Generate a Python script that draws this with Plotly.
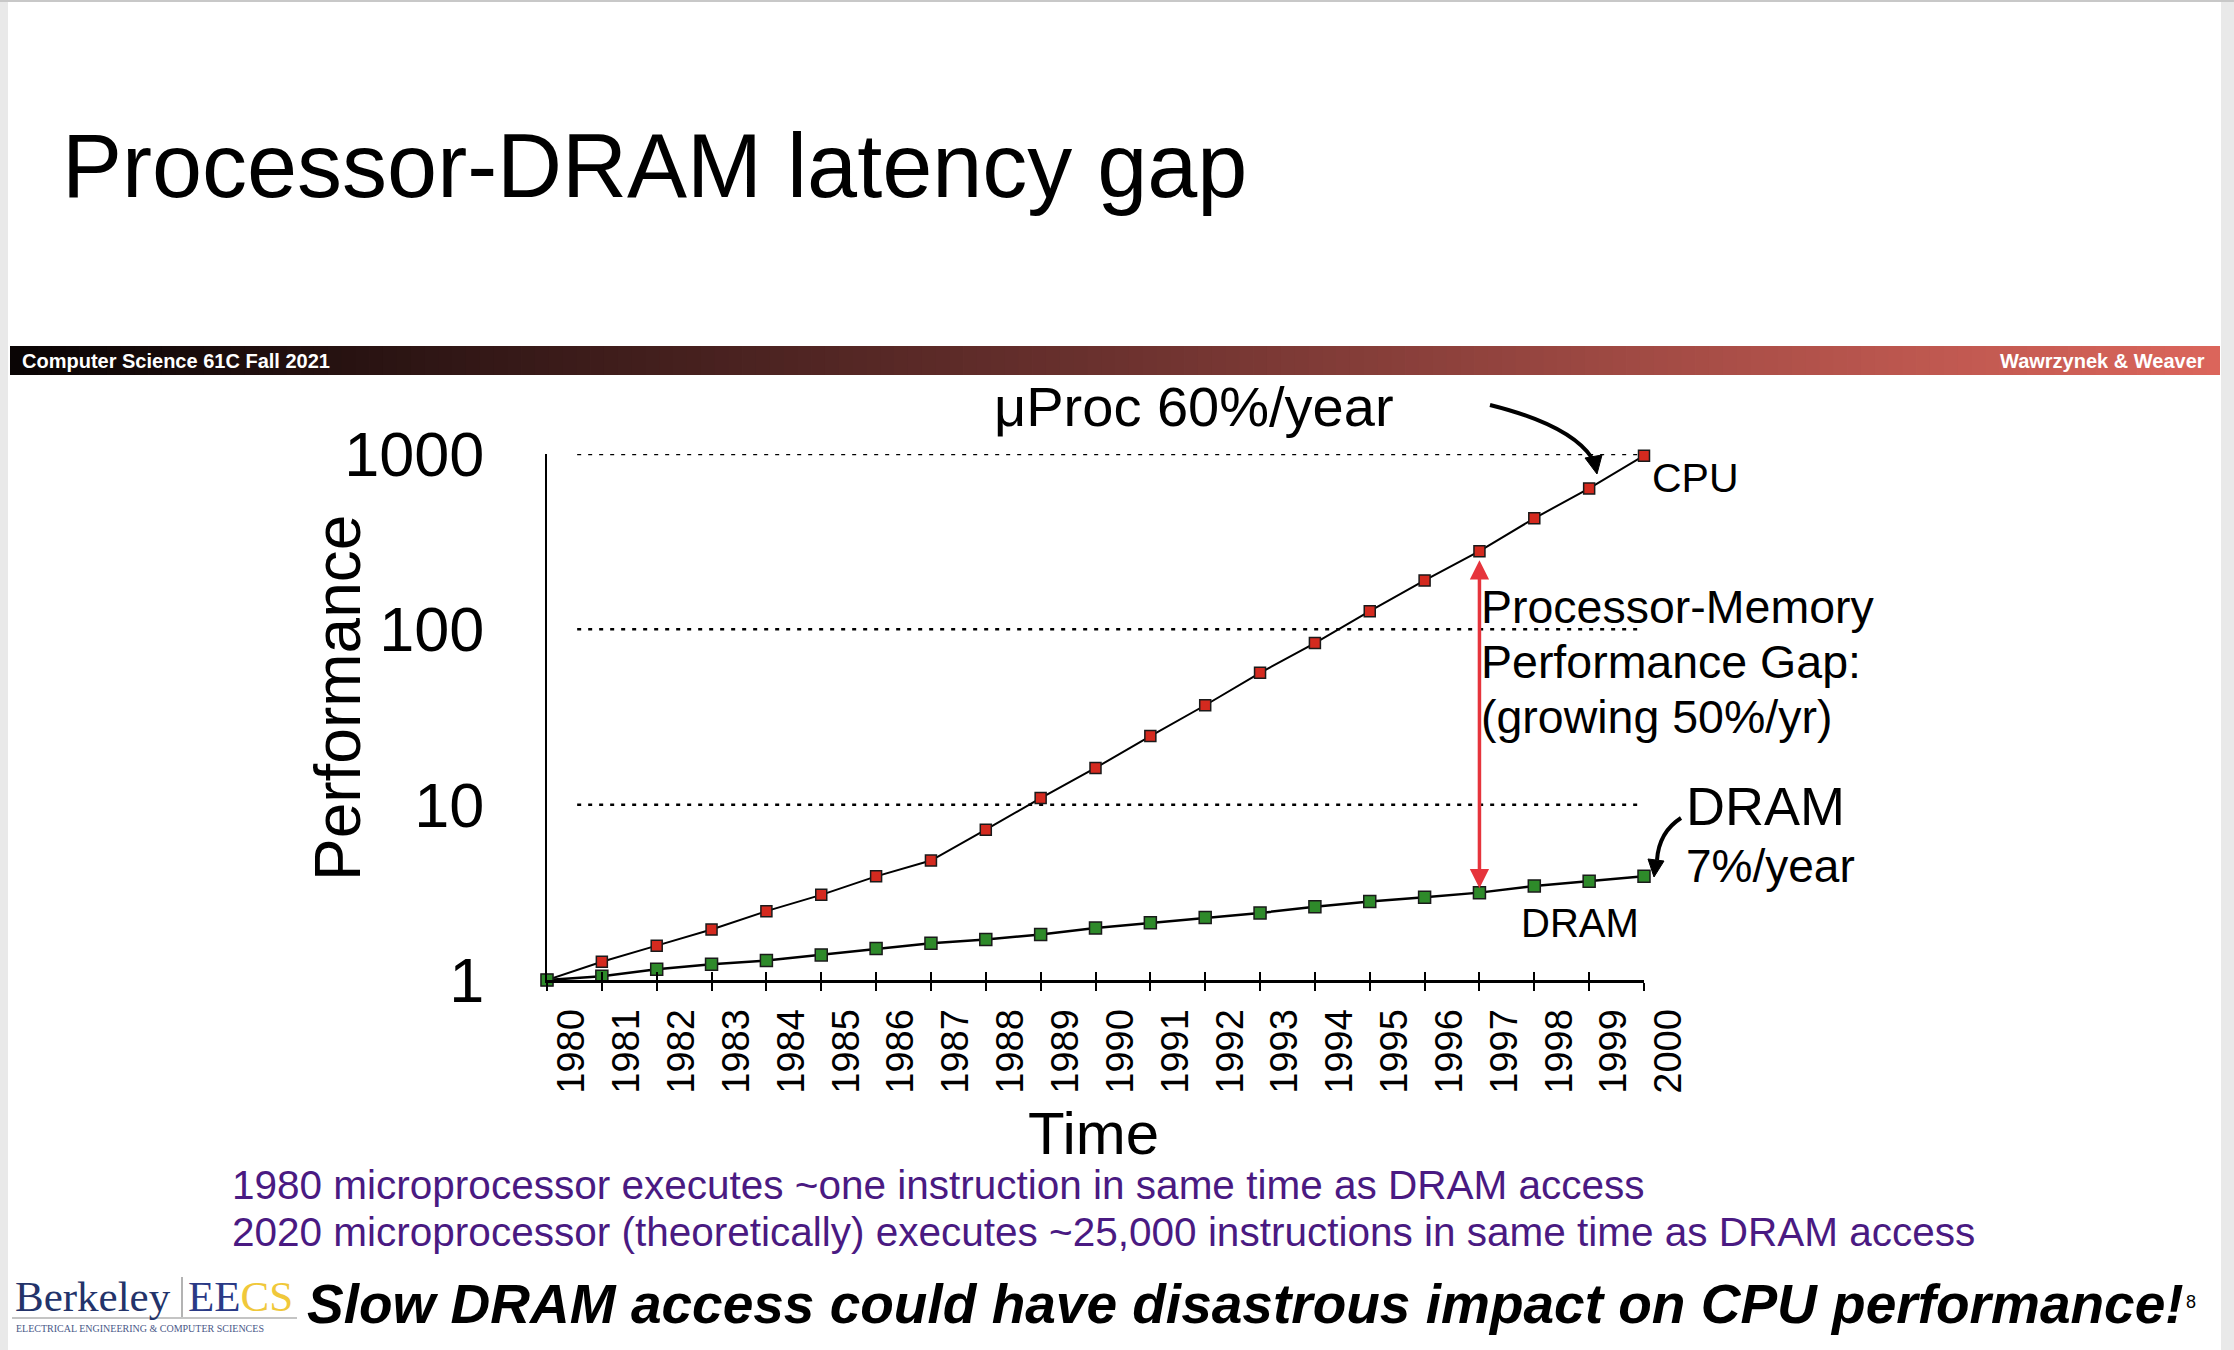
import numpy as np
import plotly.graph_objects as go

# ---------------- data ----------------
years = list(range(1980, 2001))
cpu_perf = [1.0, 1.27, 1.57, 1.94, 2.47, 3.06, 3.90, 4.80, 7.2, 10.9, 16.2,
            24.6, 36.9, 56.5, 83.5, 127, 190, 279, 430, 636, 978]
dram_perf = [1.0, 1.05, 1.15, 1.23, 1.29, 1.39, 1.51, 1.62, 1.70, 1.82, 1.98,
             2.12, 2.27, 2.41, 2.62, 2.80, 2.96, 3.15, 3.44, 3.66, 3.90]
y_tickvals = [1, 10, 100, 1000]
y_ticktext = ["1", "10", "100", "1000"]
x_ticktext = [str(y) for y in years]
grid_levels = [10, 100, 1000]
gap_year = 1997

# ---------------- geometry helpers ----------------
W, H = 2234, 1350
SANS = "Liberation Sans, Arial, Helvetica, sans-serif"
SERIF = "Liberation Serif, Times New Roman, serif"


def px(x):
    return x / W


def py(y):
    return 1 - y / H


fig = go.Figure()

fig.add_trace(go.Scatter(
    x=years, y=cpu_perf, mode="lines+markers", cliponaxis=False,
    line=dict(color="black", width=2),
    marker=dict(symbol="square", size=11, color="#d42a1f",
                line=dict(color="#1a1a1a", width=1.5)),
    showlegend=False, hoverinfo="skip"))
fig.add_trace(go.Scatter(
    x=years, y=dram_perf, mode="lines+markers", cliponaxis=False,
    line=dict(color="black", width=2.5),
    marker=dict(symbol="square", size=12, color="#2e8a2a",
                line=dict(color="#1a1a1a", width=1.5)),
    showlegend=False, hoverinfo="skip"))
# invisible trace on overlay axis (for the inside half of the crossing ticks)
fig.add_trace(go.Scatter(x=years, y=cpu_perf, xaxis="x2", mode="markers",
                         marker=dict(opacity=0), showlegend=False,
                         hoverinfo="skip"))

shapes = []
# slide frame
shapes.append(dict(type="rect", xref="paper", yref="paper", x0=0, x1=px(8),
                   y0=0, y1=1, fillcolor="#e9e9e9", line=dict(width=0)))
shapes.append(dict(type="rect", xref="paper", yref="paper", x0=px(2221), x1=1,
                   y0=0, y1=1, fillcolor="#e9e9e9", line=dict(width=0)))
shapes.append(dict(type="rect", xref="paper", yref="paper", x0=0, x1=1,
                   y0=py(2), y1=1, fillcolor="#c8c8c8", line=dict(width=0)))

# header gradient bar
c0 = np.array([10, 5, 5])
c1 = np.array([108, 50, 47])
c2 = np.array([220, 102, 92])
N = 160
bx0, bx1 = 10, 2220
for i in range(N):
    t = (i + 0.5) / N
    c = c0 + (c1 - c0) * (t / 0.5) if t < 0.5 else c1 + (c2 - c1) * ((t - 0.5) / 0.5)
    xa = bx0 + (bx1 - bx0) * i / N
    xb = bx0 + (bx1 - bx0) * (i + 1) / N + 0.8
    shapes.append(dict(type="rect", xref="paper", yref="paper",
                       x0=px(xa), x1=px(min(xb, bx1)), y0=py(375), y1=py(346),
                       fillcolor="rgb(%d,%d,%d)" % tuple(c.astype(int)),
                       line=dict(width=0)))

# dotted reference lines (shapes on a log axis take data values here)
for g in grid_levels:
    shapes.append(dict(type="line", xref="x", yref="y", x0=years[0] + 0.55,
                       x1=years[-1], y0=g, y1=g,
                       line=dict(color="black", width=2.5, dash="4px,7px"),
                       layer="below"))

# curved arrows (black)
arrow1 = "M %f,%f Q %f,%f %f,%f" % (px(1490), py(405), px(1570), py(425),
                                    px(1592), py(458))
shapes.append(dict(type="path", xref="paper", yref="paper", path=arrow1,
                   line=dict(color="black", width=4)))
head1 = "M %f,%f L %f,%f L %f,%f Z" % (px(1597), py(474), px(1585), py(458),
                                       px(1602), py(455))
shapes.append(dict(type="path", xref="paper", yref="paper", path=head1,
                   fillcolor="black", line=dict(color="black", width=1)))
arrow2 = "M %f,%f Q %f,%f %f,%f" % (px(1681), py(818), px(1659), py(832),
                                    px(1657), py(860))
shapes.append(dict(type="path", xref="paper", yref="paper", path=arrow2,
                   line=dict(color="black", width=4)))
head2 = "M %f,%f L %f,%f L %f,%f Z" % (px(1654), py(877), px(1648), py(859),
                                       px(1664), py(861))
shapes.append(dict(type="path", xref="paper", yref="paper", path=head2,
                   fillcolor="black", line=dict(color="black", width=1)))

# logo separators
shapes.append(dict(type="line", xref="paper", yref="paper", x0=px(182), x1=px(182),
                   y0=py(1317), y1=py(1277), line=dict(color="#9a9a9a", width=1.5)))
shapes.append(dict(type="line", xref="paper", yref="paper", x0=px(12), x1=px(297),
                   y0=py(1318), y1=py(1318), line=dict(color="#b0b0b0", width=1.5)))

annotations = []


def text(t, x, y, size, color="black", xanchor="left", family=SANS, angle=0):
    annotations.append(dict(text=t, x=px(x), y=py(y), xref="paper", yref="paper",
                            xanchor=xanchor, yanchor="middle", showarrow=False,
                            textangle=angle,
                            font=dict(family=family, size=size, color=color)))


text("Processor-DRAM latency gap", 60, 166, 90)
text("<b>Computer Science 61C Fall 2021</b>", 20, 361, 20, "white")
text("<b>Wawrzynek &amp; Weaver</b>", 2207, 361, 20, "white", xanchor="right")
text("μProc 60%/year", 992, 406, 56)
text("CPU", 1650, 478, 41)
text("Processor-Memory", 1479, 607, 46.5)
text("Performance Gap:", 1479, 662, 46.5)
text("(growing 50%/yr)", 1479, 717, 46.5)
text("DRAM", 1684, 806, 54)
text("7%/year", 1684, 866, 46)
text("DRAM", 1519, 923, 40)
text("Performance", 338, 698, 64, xanchor="center", angle=-90)
text("Time", 1093, 1133, 60, xanchor="center")
text("1980 microprocessor executes ~one instruction in same time as DRAM access",
     230, 1185, 40.5, "#4a1a82")
text("2020 microprocessor (theoretically) executes ~25,000 instructions in same time as DRAM access",
     230, 1232, 40.5, "#4a1a82")
text("<b><i>Slow DRAM access could have disastrous impact on CPU performance!</i></b>",
     305, 1304, 55)
text("8", 2191, 1302, 18, xanchor="center")
text("Berkeley", 13, 1296, 43, "#23336a", family=SERIF)
text("EE<span style='color:#f0c83a'>CS</span>", 186, 1296, 43, "#2a3a86", family=SERIF)
text("ELECTRICAL ENGINEERING &amp; COMPUTER SCIENCES", 14, 1328, 10, "#4a5888",
     family=SERIF)

# red double-headed gap arrow tied to the data at gap_year (annotations use log10)
gi = years.index(gap_year)
annotations.append(dict(text="", x=gap_year, y=np.log10(cpu_perf[gi]),
                        ax=gap_year, ay=np.log10(dram_perf[gi]),
                        xref="x", yref="y", axref="x", ayref="y",
                        showarrow=True, arrowhead=2, startarrowhead=2,
                        arrowside="end+start", arrowsize=1.1, startarrowsize=1.1,
                        arrowwidth=3.5, arrowcolor="#e6343c",
                        standoff=9, startstandoff=3))

fig.update_layout(
    width=W, height=H,
    margin=dict(l=0, r=0, t=0, b=0, pad=0, autoexpand=False),
    paper_bgcolor="white", plot_bgcolor="rgba(0,0,0,0)",
    shapes=shapes, annotations=annotations,
    xaxis=dict(domain=[px(547), px(1644)], range=[years[0], years[-1]],
               automargin=False,
               showgrid=False, zeroline=False, showline=True, linewidth=3,
               linecolor="black", ticks="outside", ticklen=8, tickwidth=2,
               tickcolor="black", tickvals=years, ticktext=x_ticktext,
               tickangle=-90, ticklabelshift=25, ticklabelstandoff=3,
               tickfont=dict(family=SANS, size=38, color="black")),
    xaxis2=dict(overlaying="x", matches="x", anchor="y", side="bottom",
                automargin=False,
                range=[years[0], years[-1]], showgrid=False, zeroline=False,
                showline=False, ticks="inside", ticklen=8, tickwidth=2,
                tickcolor="black", tickvals=years, showticklabels=False),
    yaxis=dict(domain=[py(980), py(454)], type="log", range=[0, 3],
               automargin=False,
               showgrid=False, zeroline=False, showline=True, linewidth=2,
               linecolor="black", ticks="", tickvals=y_tickvals,
               ticktext=y_ticktext, ticklabelstandoff=48,
               tickfont=dict(family=SANS, size=63, color="black")),
    font=dict(family=SANS),
)

fig.write_html("out.html")
